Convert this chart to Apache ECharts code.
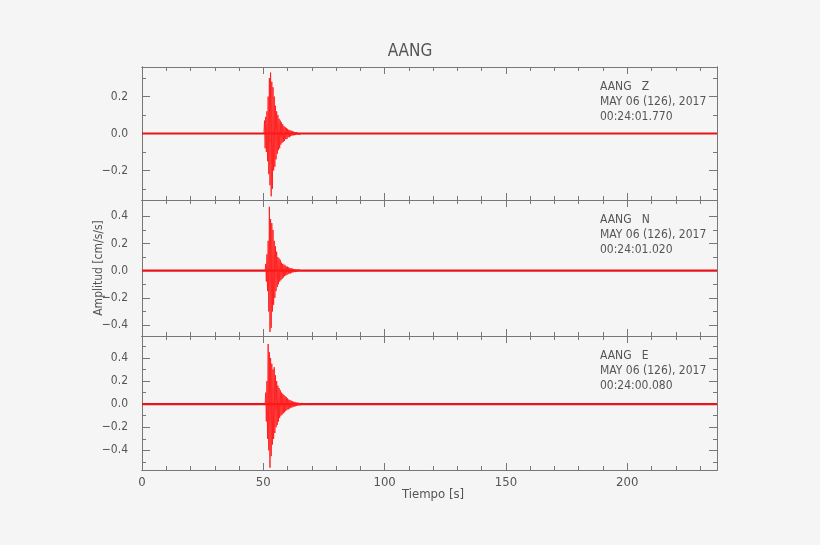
<!DOCTYPE html>
<html>
<head>
<meta charset="utf-8">
<script src="https://cdn.jsdelivr.net/npm/echarts@6/dist/echarts.min.js"></script>
<style>
  html, body { margin: 0; padding: 0; background: #f5f5f5; }
  #chart { width: 820px; height: 545px; }
</style>
</head>
<body>
<div id="chart"></div>
<script>
// datos
const station = 'AANG';
const components = ['Z', 'N', 'E'];
const startTimes = ['00:24:01.770', '00:24:01.020', '00:24:00.080'];
const dateLabel = 'MAY 06 (126), 2017';
const tEnd = 237;
const step = 0.25;

const onsetZ = 50.5;
const traceZ = [0.07,-0.08,0.09,-0.1,0.12,-0.15,0.2,-0.22,0.3,-0.28,0.33,-0.34,0.28,-0.3,0.25,-0.2,0.2,-0.18,0.15,-0.14,0.12,-0.11,0.1,-0.09,0.08,-0.08,0.07,-0.06,0.06,-0.05,0.05,-0.045,0.04,-0.04,0.035,-0.03,0.03,-0.03,0.025,-0.02,0.02,-0.02,0.018,-0.015,0.015,-0.012,0.012,-0.01,0.01,-0.01,0.008,-0.008,0.008,-0.006,0.006,-0.005,0.005,-0.005,0.004,-0.004];
const onsetN = 51;
const traceN = [0.05,-0.08,0.12,-0.15,0.22,-0.3,0.47,-0.45,0.38,-0.42,0.35,-0.3,0.3,-0.25,0.22,-0.2,0.18,-0.15,0.14,-0.12,0.1,-0.1,0.09,-0.08,0.08,-0.07,0.06,-0.06,0.05,-0.05,0.045,-0.04,0.04,-0.035,0.03,-0.03,0.03,-0.025,0.025,-0.02,0.02,-0.02,0.018,-0.015,0.015,-0.012,0.012,-0.01,0.01,-0.01,0.008,-0.008,0.007,-0.006,0.006,-0.005,0.005,-0.004];
const onsetE = 51;
const traceE = [0.1,-0.15,0.2,-0.3,0.52,-0.4,0.45,-0.55,0.4,-0.45,0.35,-0.35,0.3,-0.3,0.32,-0.25,0.25,-0.2,0.2,-0.18,0.16,-0.15,0.14,-0.12,0.12,-0.1,0.1,-0.09,0.09,-0.08,0.08,-0.07,0.07,-0.06,0.06,-0.05,0.05,-0.045,0.04,-0.04,0.035,-0.03,0.03,-0.03,0.025,-0.025,0.02,-0.02,0.02,-0.018,0.015,-0.015,0.013,-0.012,0.012,-0.01,0.01,-0.01,0.008,-0.008,0.007,-0.006,0.006,-0.005,0.005,-0.004];

const yMajor = [[-0.2, 0, 0.2], [-0.4, -0.2, 0, 0.2, 0.4], [-0.4, -0.2, 0, 0.2, 0.4]];
const yMinor = [[-0.3, -0.1, 0.1, 0.3], [-0.3, -0.1, 0.1, 0.3], [-0.5, -0.3, -0.1, 0.1, 0.3, 0.5]];
const yRanges = [[-0.36, 0.36], [-0.48, 0.52], [-0.57, 0.59]];
const xMajor = [0, 50, 100, 150, 200];
const xMinor = [10, 20, 30, 40, 60, 70, 80, 90, 110, 120, 130, 140, 160, 170, 180, 190, 210, 220, 230];

const onsets = [onsetZ, onsetN, onsetE];
const traces = [traceZ, traceN, traceE];

const gridPos = [[67, 133], [200, 136], [336, 134]];
const axisColor = '#777';
const textColor = '#555';
const font = '"DejaVu Sans Condensed", "Liberation Sans Narrow", sans-serif';

const grids = [], xAxes = [], yAxes = [], series = [];

function axisBase(extra) {
  return Object.assign({
    axisLine: { show: true, onZero: false, lineStyle: { color: axisColor } },
    splitLine: { show: false },
    axisLabel: { show: false },
    axisTick: { show: false }
  }, extra);
}

gridPos.forEach(([top, h], i) => {
  grids.push({ left: 142, width: 575, top: top, height: h });
  const last = i === gridPos.length - 1;
  [['bottom', xMajor, 7, last], ['bottom', xMinor, 4, false], ['top', xMajor, 7, false], ['top', xMinor, 4, false]]
    .forEach(([pos, vals, len, lbl]) => {
      xAxes.push(axisBase({
        type: 'value', gridIndex: i, position: pos, min: 0, max: tEnd,
        axisTick: { show: true, inside: true, length: len, customValues: vals, lineStyle: { color: axisColor } },
        axisLabel: lbl ? { show: true, customValues: xMajor, color: textColor, fontFamily: font, fontSize: 13, margin: 6 } : { show: false }
      }));
    });
  [['left', yMajor[i], 8, true], ['left', yMinor[i], 4, false], ['right', yMajor[i], 8, false], ['right', yMinor[i], 4, false]]
    .forEach(([pos, vals, len, lbl]) => {
      yAxes.push(axisBase({
        type: 'value', gridIndex: i, position: pos, min: yRanges[i][0], max: yRanges[i][1],
        axisTick: { show: true, inside: true, length: len, customValues: vals, lineStyle: { color: axisColor } },
        axisLabel: lbl ? { show: true, inside: false, margin: 14, customValues: yMajor[i], color: textColor, fontFamily: font, fontSize: 12,
          formatter: v => (v < 0 ? '\u2212' : '') + Math.abs(v).toFixed(1) } : { show: false }
      }));
    });

  const pts = traces[i].map((v, k) => [onsets[i] + k * step, v]);
  const endT = onsets[i] + traces[i].length * step;
  // linea base (ruido de fondo)
  series.push({
    type: 'line', xAxisIndex: i * 4, yAxisIndex: i * 4, symbol: 'none', silent: true,
    data: [[0, 0], [tEnd, 0]], lineStyle: { color: '#e8141a', width: 2.2 }
  });
  series.push({
    type: 'line', xAxisIndex: i * 4, yAxisIndex: i * 4, symbol: 'none', silent: true,
    data: [[onsets[i] - step, 0]].concat(pts, [[endT, 0]]),
    lineStyle: { color: '#ff1a1a', width: 0.9 }
  });
});

const graphic = [];
gridPos.forEach(([top], i) => {
  graphic.push({
    type: 'text', left: 600, top: top + 12,
    style: {
      text: station + '   ' + components[i] + '\n' + dateLabel + '\n' + startTimes[i],
      fill: textColor, font: '12px ' + font, lineHeight: 15
    }
  });
});

const chart = echarts.init(document.getElementById('chart'));
chart.setOption({
  backgroundColor: '#f5f5f5',
  animation: false,
  title: {
    text: station, left: 'center', top: 38,
    textStyle: { color: textColor, fontFamily: font, fontSize: 17, fontWeight: 'normal' }
  },
  grid: grids, xAxis: xAxes, yAxis: yAxes, series: series,
  graphic: graphic.concat([
    { type: 'text', left: 402, top: 488, style: { text: 'Tiempo [s]', fill: textColor, font: '13px ' + font } },
    { type: 'text', x: 99, y: 268, rotation: Math.PI / 2,
      style: { text: 'Amplitud [cm/s/s]', fill: textColor, font: '12px ' + font, align: 'center', verticalAlign: 'middle' } }
  ])
});
</script>
</body>
</html>
